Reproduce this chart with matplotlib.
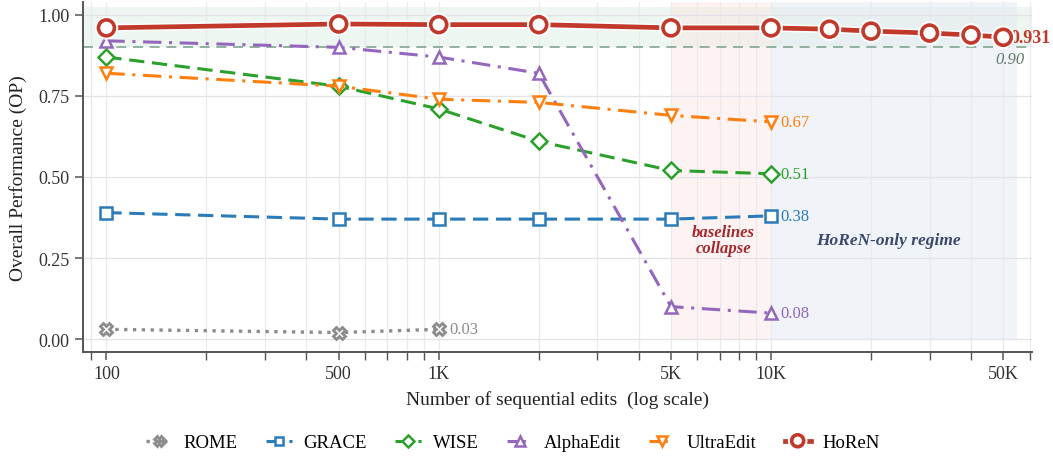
import numpy as np
import matplotlib
matplotlib.use("Agg")
import matplotlib.pyplot as plt
import matplotlib.ticker as mticker
import matplotlib.patheffects as pe

plt.rcParams['font.family'] = ['Liberation Serif', 'DejaVu Serif']

# data
edits_base = [100, 500, 1000, 2000, 5000, 10000]
edits_rome = [100, 500, 1000]
edits_horen = [100, 500, 1000, 2000, 5000, 10000, 15000, 20000, 30000, 40000, 50000]

rome = [0.03, 0.02, 0.03]
grace = [0.39, 0.37, 0.37, 0.37, 0.37, 0.38]
wise = [0.87, 0.78, 0.71, 0.61, 0.52, 0.51]
alphaedit = [0.92, 0.90, 0.87, 0.82, 0.10, 0.08]
ultraedit = [0.82, 0.78, 0.74, 0.73, 0.69, 0.67]
horen = [0.96, 0.972, 0.97, 0.97, 0.96, 0.96, 0.956, 0.95, 0.944, 0.938, 0.931]

major_ticks = [100, 500, 1000, 5000, 10000, 50000]
major_labels = ["100", "500", "1K", "5K", "10K", "50K"]
threshold = 0.90

fig = plt.figure(figsize=(10.53, 4.60), dpi=100)
ax = fig.add_axes([0.0788, 0.2326, 0.9012, 0.761])

ax.set_xscale("log")
ax.set_xlim(85, 61000)
ax.set_ylim(-0.04, 1.04)

# shaded regions
ax.axhspan(threshold, 1.025, color="#e4f1e8", alpha=0.6, zorder=0, lw=0)
ax.fill_between([5000, 10000], 0, 1.04, color="#fbe3df", alpha=0.4, zorder=0, lw=0)
ax.fill_between([10000, 55000], 0, 1.04, color="#e3e9f2", alpha=0.5, zorder=0, lw=0)
ax.axhline(threshold, color="#7fa58f", lw=1.2, ls=(0, (6, 4)), zorder=1)
ax.text(58000, threshold - 0.012, "0.90", color="#5f7f6c", fontsize=12,
        style="italic", ha="right", va="top")

ax.plot(edits_rome, rome, color="#8c8c8c", ls=":", lw=2.4, marker="X", ms=9,
        mfc="white", mec="#8c8c8c", mew=2, label="ROME", zorder=3)
ax.plot(edits_base, grace, color="#2b7bb9", ls=(0, (5, 2.5)), lw=2.2, marker="s", ms=8.5,
        mfc="white", mec="#2b7bb9", mew=1.8, label="GRACE", zorder=3)
ax.plot(edits_base, wise, color="#2ca02c", ls=(0, (5, 2.5)), lw=2.2, marker="D", ms=8.5,
        mfc="white", mec="#2ca02c", mew=1.8, label="WISE", zorder=3)
ax.plot(edits_base, alphaedit, color="#9467bd", ls=(0, (6, 2.5, 1, 2.5)), lw=2.2, marker="^", ms=9,
        mfc="white", mec="#9467bd", mew=1.8, label="AlphaEdit", zorder=3)
ax.plot(edits_base, ultraedit, color="#ff7f0e", ls=(0, (6, 2.5, 1, 2.5)), lw=2.2, marker="v", ms=9,
        mfc="white", mec="#ff7f0e", mew=1.8, label="UltraEdit", zorder=3)
ax.plot(edits_horen, horen, color="#c0392b", lw=3.4, marker="o", ms=11.5,
        mfc="white", mec="#c0392b", mew=2.6, label="HoReN", zorder=4,
        path_effects=[pe.Stroke(linewidth=5.5, foreground="white"), pe.Normal()])

# end labels
ax.text(1080, rome[-1], "0.03", color="#8c8c8c", fontsize=12, va="center")
ax.text(10700, grace[-1], "0.38", color="#2b7bb9", fontsize=12, va="center")
ax.text(10700, wise[-1], "0.51", color="#2ca02c", fontsize=12, va="center")
ax.text(10700, ultraedit[-1], "0.67", color="#ff7f0e", fontsize=12, va="center")
ax.text(10700, alphaedit[-1], "0.08", color="#9467bd", fontsize=12, va="center")
ax.text(52500, horen[-1], "0.931", color="#c0392b", fontsize=13, fontweight="bold", va="center")

ax.text(7200, 0.305, "baselines\ncollapse", color="#a3282c", fontsize=12,
        fontweight="bold", style="italic", ha="center", va="center", linespacing=1.0)
ax.text(22500, 0.305, "HoReN-only regime", color="#3a4a6b", fontsize=12.5,
        fontweight="bold", style="italic", ha="center", va="center")

ax.xaxis.set_major_locator(mticker.FixedLocator(major_ticks))
ax.xaxis.set_major_formatter(mticker.FixedFormatter(major_labels))
ax.xaxis.set_minor_locator(mticker.LogLocator(base=10, subs=np.arange(1, 10)))
ax.xaxis.set_minor_formatter(mticker.NullFormatter())
ax.set_yticks([0, 0.25, 0.5, 0.75, 1.0])
ax.yaxis.set_major_formatter(mticker.FormatStrFormatter("%.2f"))

ax.grid(True, which="both", axis="x", color="#e8e8ee", lw=0.9, zorder=0)
ax.grid(True, which="major", axis="y", color="#e2e2e8", lw=0.9, zorder=0)
ax.set_axisbelow(True)

for s in ["top", "right"]:
    ax.spines[s].set_visible(False)
for s in ["left", "bottom"]:
    ax.spines[s].set_color("#555555")
    ax.spines[s].set_linewidth(1.4)
ax.tick_params(which="major", length=6, width=1.1, color="#555555", labelsize=13,
               labelcolor="#333333")
ax.tick_params(which="minor", length=6, width=1.0, color="#555555")

ax.set_xlabel("Number of sequential edits  (log scale)", fontsize=14, color="#222222", labelpad=6)
ax.set_ylabel("Overall Performance (OP)", fontsize=14, color="#222222", labelpad=8)

fig.legend(loc="lower center", bbox_to_anchor=(0.487, -0.02), ncol=6, frameon=False,
           fontsize=13.5, handlelength=1.4, columnspacing=1.5, handletextpad=0.6,
           markerscale=0.75)

fig.savefig("out.png", dpi=100)
